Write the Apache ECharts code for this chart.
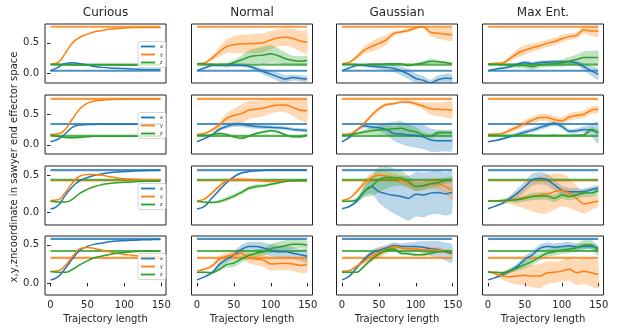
<!DOCTYPE html>
<html>
<head>
<meta charset="utf-8">
<script src="https://cdn.jsdelivr.net/npm/echarts@6/dist/echarts.min.js"></script>
<style>
html, body { margin: 0; padding: 0; background: #fff; }
#chart { width: 617px; height: 336px; }
</style>
</head>
<body>
<div id="chart"></div>
<script>
// trajectory steps the values were read at
const steps = [0, 10, 20, 30, 40, 50, 60, 70, 80, 90, 100, 110, 120, 130, 140, 149];
const titles = ['Curious', 'Normal', 'Gaussian', 'Max Ent.'];
const yTicks = [0, 0.5];
const xTicks = [0, 50, 100, 150];

// goal positions per row (horizontal lines)
const targetX = [0.045, 0.34, 0.57, 0.58];
const targetY = [0.76, 0.75, 0.43, 0.33];
const targetZ = [0.145, 0.147, 0.44, 0.42];

// row 1
const curious1X = [0.045, 0.10, 0.165, 0.175, 0.16, 0.14, 0.115, 0.10, 0.09, 0.085, 0.08, 0.075, 0.07, 0.065, 0.065, 0.065];
const curious1Y = [0.15, 0.18, 0.33, 0.50, 0.59, 0.64, 0.68, 0.70, 0.72, 0.73, 0.74, 0.745, 0.75, 0.75, 0.75, 0.75];
const curious1Z = [0.15, 0.15, 0.145, 0.14, 0.14, 0.14, 0.14, 0.14, 0.14, 0.14, 0.14, 0.14, 0.14, 0.14, 0.14, 0.14];

const normal1X = [0.044, 0.09, 0.13, 0.135, 0.13, 0.135, 0.13, 0.12, 0.08, 0.03, -0.01, -0.055, -0.09, -0.065, -0.08, -0.09];
const normal1XSd = [0, 0.005, 0.01, 0.03, 0.035, 0.03, 0.02, 0.03, 0.04, 0.05, 0.06, 0.07, 0.06, 0.05, 0.05, 0.05];
const normal1Y = [0.16, 0.17, 0.245, 0.35, 0.44, 0.47, 0.48, 0.485, 0.49, 0.50, 0.545, 0.58, 0.59, 0.57, 0.53, 0.51];
const normal1YSd = [0.005, 0.01, 0.04, 0.08, 0.11, 0.14, 0.15, 0.15, 0.16, 0.15, 0.15, 0.14, 0.14, 0.15, 0.17, 0.18];
const normal1Z = [0.16, 0.155, 0.15, 0.145, 0.145, 0.18, 0.22, 0.27, 0.29, 0.30, 0.32, 0.29, 0.24, 0.21, 0.20, 0.21];
const normal1ZSd = [0.005, 0.005, 0.01, 0.01, 0.02, 0.04, 0.07, 0.1, 0.12, 0.14, 0.14, 0.12, 0.1, 0.08, 0.08, 0.08];

const gaussian1X = [0.044, 0.09, 0.13, 0.13, 0.12, 0.11, 0.10, 0.08, 0.044, -0.01, -0.08, -0.11, -0.15, -0.10, -0.076, -0.08];
const gaussian1XSd = [0, 0.01, 0.01, 0.02, 0.03, 0.04, 0.05, 0.06, 0.07, 0.08, 0.08, 0.07, 0.05, 0.07, 0.07, 0.07];
const gaussian1Y = [0.16, 0.185, 0.27, 0.38, 0.44, 0.49, 0.545, 0.65, 0.675, 0.70, 0.74, 0.76, 0.67, 0.655, 0.64, 0.63];
const gaussian1YSd = [0, 0.01, 0.04, 0.06, 0.08, 0.09, 0.08, 0.04, 0.03, 0.03, 0.02, 0.02, 0.06, 0.09, 0.1, 0.1];
const gaussian1Z = [0.15, 0.15, 0.145, 0.14, 0.15, 0.15, 0.155, 0.16, 0.155, 0.13, 0.15, 0.17, 0.20, 0.19, 0.18, 0.16];
const gaussian1ZSd = [0.005, 0.01, 0.01, 0.01, 0.015, 0.015, 0.015, 0.015, 0.015, 0.015, 0.02, 0.03, 0.04, 0.03, 0.02, 0.02];

const maxent1X = [0.044, 0.07, 0.09, 0.11, 0.15, 0.18, 0.16, 0.18, 0.185, 0.19, 0.19, 0.19, 0.17, 0.11, 0.044, -0.01];
const maxent1XSd = [0, 0.01, 0.02, 0.02, 0.03, 0.03, 0.03, 0.03, 0.03, 0.03, 0.03, 0.03, 0.04, 0.06, 0.08, 0.09];
const maxent1Y = [0.16, 0.165, 0.17, 0.245, 0.33, 0.38, 0.42, 0.45, 0.49, 0.52, 0.566, 0.60, 0.62, 0.71, 0.69, 0.69];
const maxent1YSd = [0, 0.01, 0.02, 0.05, 0.07, 0.08, 0.07, 0.06, 0.06, 0.06, 0.06, 0.05, 0.05, 0.06, 0.08, 0.09];
const maxent1Z = [0.15, 0.15, 0.145, 0.14, 0.13, 0.13, 0.11, 0.14, 0.15, 0.16, 0.17, 0.20, 0.23, 0.26, 0.26, 0.26];
const maxent1ZSd = [0.005, 0.01, 0.02, 0.03, 0.04, 0.05, 0.05, 0.05, 0.05, 0.05, 0.06, 0.07, 0.08, 0.1, 0.11, 0.11];

// row 2
const curious2X = [0.05, 0.09, 0.18, 0.29, 0.325, 0.33, 0.333, 0.335, 0.335, 0.335, 0.335, 0.335, 0.335, 0.335, 0.335, 0.335];
const curious2Y = [0.17, 0.18, 0.25, 0.43, 0.59, 0.68, 0.715, 0.73, 0.74, 0.745, 0.745, 0.745, 0.745, 0.745, 0.745, 0.745];
const curious2Z = [0.16, 0.14, 0.12, 0.115, 0.12, 0.13, 0.14, 0.14, 0.14, 0.14, 0.14, 0.14, 0.14, 0.14, 0.14, 0.14];

const normal2X = [0.05, 0.10, 0.16, 0.25, 0.30, 0.33, 0.33, 0.315, 0.30, 0.29, 0.285, 0.28, 0.27, 0.25, 0.24, 0.235];
const normal2XSd = [0, 0.01, 0.02, 0.03, 0.04, 0.04, 0.04, 0.04, 0.04, 0.04, 0.03, 0.03, 0.03, 0.03, 0.03, 0.03];
const normal2Y = [0.17, 0.185, 0.24, 0.32, 0.43, 0.48, 0.51, 0.565, 0.58, 0.60, 0.63, 0.65, 0.65, 0.61, 0.565, 0.555];
const normal2YSd = [0.005, 0.01, 0.03, 0.05, 0.08, 0.11, 0.15, 0.15, 0.14, 0.13, 0.12, 0.11, 0.12, 0.14, 0.17, 0.19];
const normal2Z = [0.155, 0.155, 0.165, 0.185, 0.17, 0.13, 0.105, 0.14, 0.185, 0.21, 0.23, 0.21, 0.16, 0.13, 0.13, 0.16];
const normal2ZSd = [0.005, 0.01, 0.015, 0.02, 0.02, 0.02, 0.02, 0.02, 0.02, 0.02, 0.02, 0.02, 0.02, 0.02, 0.02, 0.02];

const gaussian2X = [0.05, 0.12, 0.24, 0.31, 0.29, 0.28, 0.25, 0.185, 0.175, 0.16, 0.15, 0.13, 0.077, 0.065, 0.065, 0.065];
const gaussian2XSd = [0, 0.01, 0.02, 0.03, 0.04, 0.06, 0.08, 0.12, 0.16, 0.19, 0.2, 0.2, 0.19, 0.18, 0.17, 0.17];
const gaussian2Y = [0.17, 0.175, 0.24, 0.35, 0.48, 0.59, 0.66, 0.67, 0.70, 0.70, 0.67, 0.635, 0.59, 0.58, 0.575, 0.565];
const gaussian2YSd = [0, 0.01, 0.02, 0.03, 0.03, 0.03, 0.03, 0.02, 0.02, 0.03, 0.04, 0.06, 0.1, 0.11, 0.13, 0.14];
const gaussian2Z = [0.155, 0.16, 0.185, 0.21, 0.23, 0.24, 0.25, 0.26, 0.27, 0.235, 0.21, 0.16, 0.14, 0.195, 0.20, 0.195];
const gaussian2ZSd = [0, 0.01, 0.02, 0.04, 0.06, 0.08, 0.1, 0.12, 0.12, 0.1, 0.08, 0.05, 0.04, 0.04, 0.03, 0.03];

const maxent2X = [0.05, 0.07, 0.10, 0.135, 0.17, 0.205, 0.24, 0.28, 0.32, 0.35, 0.30, 0.22, 0.23, 0.25, 0.24, 0.20];
const maxent2XSd = [0, 0.01, 0.02, 0.03, 0.04, 0.04, 0.04, 0.04, 0.04, 0.04, 0.04, 0.04, 0.04, 0.05, 0.1, 0.18];
const maxent2Y = [0.17, 0.175, 0.185, 0.24, 0.29, 0.35, 0.40, 0.445, 0.445, 0.41, 0.39, 0.455, 0.48, 0.50, 0.565, 0.58];
const maxent2YSd = [0, 0.01, 0.02, 0.04, 0.05, 0.06, 0.06, 0.06, 0.06, 0.06, 0.06, 0.06, 0.06, 0.06, 0.06, 0.06];
const maxent2Z = [0.155, 0.155, 0.15, 0.15, 0.15, 0.155, 0.155, 0.15, 0.15, 0.155, 0.15, 0.15, 0.155, 0.16, 0.25, 0.20];
const maxent2ZSd = [0.005, 0.01, 0.01, 0.015, 0.015, 0.015, 0.015, 0.015, 0.015, 0.015, 0.015, 0.015, 0.02, 0.03, 0.04, 0.04];

// row 3
const curious3X = [0.045, 0.09, 0.23, 0.35, 0.43, 0.47, 0.50, 0.52, 0.535, 0.545, 0.55, 0.555, 0.56, 0.563, 0.565, 0.567];
const curious3Y = [0.16, 0.17, 0.27, 0.40, 0.49, 0.51, 0.51, 0.50, 0.48, 0.465, 0.455, 0.45, 0.445, 0.44, 0.44, 0.44];
const curious3Z = [0.15, 0.14, 0.14, 0.18, 0.26, 0.31, 0.35, 0.375, 0.39, 0.40, 0.405, 0.41, 0.415, 0.42, 0.42, 0.42];

const normal3X = [0.045, 0.08, 0.19, 0.30, 0.40, 0.48, 0.53, 0.55, 0.56, 0.565, 0.57, 0.57, 0.57, 0.57, 0.57, 0.57];
const normal3XSd = [0, 0.005, 0.01, 0.015, 0.015, 0.015, 0.01, 0.01, 0.01, 0.005, 0.005, 0.005, 0.005, 0.005, 0.005, 0.005];
const normal3Y = [0.156, 0.18, 0.26, 0.35, 0.43, 0.445, 0.445, 0.44, 0.43, 0.42, 0.415, 0.42, 0.425, 0.425, 0.425, 0.425];
const normal3YSd = [0, 0.01, 0.02, 0.025, 0.02, 0.02, 0.02, 0.02, 0.015, 0.01, 0.01, 0.01, 0.01, 0.01, 0.01, 0.01];
const normal3Z = [0.147, 0.14, 0.134, 0.147, 0.18, 0.22, 0.27, 0.325, 0.35, 0.36, 0.38, 0.40, 0.415, 0.425, 0.43, 0.43];
const normal3ZSd = [0, 0.005, 0.01, 0.02, 0.03, 0.03, 0.03, 0.03, 0.03, 0.02, 0.02, 0.02, 0.01, 0.01, 0.01, 0.01];

const gaussian3X = [0.05, 0.08, 0.15, 0.28, 0.35, 0.28, 0.25, 0.23, 0.215, 0.19, 0.245, 0.235, 0.26, 0.27, 0.25, 0.27];
const gaussian3XSd = [0, 0.01, 0.03, 0.06, 0.1, 0.15, 0.2, 0.24, 0.28, 0.3, 0.3, 0.3, 0.29, 0.29, 0.29, 0.28];
const gaussian3Y = [0.16, 0.19, 0.28, 0.39, 0.47, 0.505, 0.49, 0.47, 0.44, 0.39, 0.35, 0.36, 0.38, 0.385, 0.35, 0.30];
const gaussian3YSd = [0, 0.01, 0.03, 0.05, 0.06, 0.06, 0.06, 0.06, 0.06, 0.06, 0.06, 0.06, 0.07, 0.08, 0.1, 0.13];
const gaussian3Z = [0.15, 0.15, 0.17, 0.28, 0.35, 0.44, 0.47, 0.47, 0.46, 0.415, 0.35, 0.36, 0.385, 0.40, 0.43, 0.44];
const gaussian3ZSd = [0, 0.01, 0.03, 0.08, 0.13, 0.17, 0.15, 0.12, 0.1, 0.08, 0.06, 0.05, 0.05, 0.05, 0.04, 0.04];

const maxent3X = [0.05, 0.085, 0.125, 0.19, 0.26, 0.35, 0.44, 0.46, 0.44, 0.37, 0.30, 0.28, 0.28, 0.28, 0.31, 0.325];
const maxent3XSd = [0, 0.01, 0.02, 0.04, 0.06, 0.07, 0.08, 0.08, 0.08, 0.07, 0.06, 0.05, 0.05, 0.04, 0.04, 0.04];
const maxent3Y = [0.16, 0.155, 0.15, 0.165, 0.18, 0.20, 0.215, 0.235, 0.25, 0.28, 0.30, 0.26, 0.19, 0.115, 0.135, 0.155];
const maxent3YSd = [0, 0.01, 0.02, 0.05, 0.1, 0.15, 0.2, 0.25, 0.26, 0.24, 0.22, 0.2, 0.17, 0.13, 0.1, 0.08];
const maxent3Z = [0.15, 0.155, 0.16, 0.165, 0.17, 0.19, 0.215, 0.22, 0.22, 0.19, 0.235, 0.215, 0.235, 0.26, 0.26, 0.295];
const maxent3ZSd = [0, 0.01, 0.02, 0.03, 0.04, 0.04, 0.05, 0.05, 0.05, 0.05, 0.05, 0.05, 0.05, 0.05, 0.05, 0.05];

// row 4
const curious4X = [0.04, 0.08, 0.19, 0.32, 0.43, 0.48, 0.51, 0.525, 0.54, 0.55, 0.555, 0.56, 0.565, 0.567, 0.57, 0.572];
const curious4Y = [0.15, 0.16, 0.23, 0.35, 0.45, 0.465, 0.45, 0.43, 0.41, 0.39, 0.375, 0.365, 0.355, 0.35, 0.35, 0.345];
const curious4Z = [0.15, 0.14, 0.14, 0.18, 0.24, 0.29, 0.33, 0.355, 0.375, 0.39, 0.40, 0.41, 0.415, 0.42, 0.42, 0.42];

const normal4X = [0.04, 0.08, 0.13, 0.24, 0.31, 0.37, 0.44, 0.48, 0.48, 0.46, 0.43, 0.41, 0.41, 0.39, 0.37, 0.35];
const normal4XSd = [0, 0.01, 0.02, 0.03, 0.04, 0.05, 0.06, 0.06, 0.06, 0.07, 0.08, 0.08, 0.08, 0.08, 0.08, 0.09];
const normal4Y = [0.155, 0.18, 0.22, 0.31, 0.35, 0.37, 0.39, 0.33, 0.315, 0.30, 0.25, 0.255, 0.26, 0.25, 0.23, 0.24];
const normal4YSd = [0, 0.01, 0.02, 0.04, 0.05, 0.06, 0.06, 0.07, 0.08, 0.09, 0.09, 0.09, 0.09, 0.09, 0.1, 0.1];
const normal4Z = [0.14, 0.14, 0.134, 0.18, 0.24, 0.26, 0.315, 0.36, 0.39, 0.41, 0.45, 0.47, 0.49, 0.51, 0.51, 0.50];
const normal4ZSd = [0, 0.01, 0.02, 0.03, 0.04, 0.05, 0.05, 0.05, 0.05, 0.05, 0.06, 0.07, 0.07, 0.06, 0.05, 0.05];

const gaussian4X = [0.04, 0.09, 0.20, 0.31, 0.39, 0.43, 0.46, 0.49, 0.48, 0.48, 0.48, 0.47, 0.45, 0.44, 0.41, 0.385];
const gaussian4XSd = [0, 0.01, 0.02, 0.03, 0.04, 0.04, 0.04, 0.04, 0.04, 0.05, 0.06, 0.08, 0.1, 0.11, 0.12, 0.12];
const gaussian4Y = [0.155, 0.16, 0.22, 0.285, 0.35, 0.40, 0.435, 0.48, 0.46, 0.445, 0.445, 0.435, 0.435, 0.43, 0.415, 0.39];
const gaussian4YSd = [0, 0.01, 0.02, 0.04, 0.07, 0.07, 0.05, 0.04, 0.04, 0.04, 0.04, 0.04, 0.04, 0.04, 0.03, 0.03];
const gaussian4Z = [0.14, 0.14, 0.14, 0.22, 0.31, 0.38, 0.43, 0.445, 0.39, 0.385, 0.37, 0.37, 0.39, 0.41, 0.415, 0.40];
const gaussian4ZSd = [0, 0.01, 0.01, 0.02, 0.03, 0.03, 0.03, 0.03, 0.02, 0.02, 0.02, 0.02, 0.02, 0.02, 0.02, 0.02];

const maxent4X = [0.04, 0.07, 0.11, 0.16, 0.22, 0.31, 0.37, 0.455, 0.48, 0.47, 0.48, 0.49, 0.47, 0.48, 0.48, 0.455];
const maxent4XSd = [0, 0.01, 0.02, 0.03, 0.04, 0.05, 0.05, 0.05, 0.05, 0.05, 0.05, 0.05, 0.05, 0.04, 0.04, 0.04];
const maxent4Y = [0.155, 0.12, 0.09, 0.08, 0.09, 0.10, 0.09, 0.09, 0.134, 0.14, 0.155, 0.18, 0.134, 0.155, 0.134, 0.11];
const maxent4YSd = [0, 0.02, 0.05, 0.08, 0.11, 0.13, 0.15, 0.16, 0.15, 0.14, 0.14, 0.15, 0.16, 0.17, 0.18, 0.18];
const maxent4Z = [0.14, 0.14, 0.134, 0.16, 0.20, 0.24, 0.285, 0.34, 0.39, 0.41, 0.43, 0.445, 0.46, 0.50, 0.50, 0.415];
const maxent4ZSd = [0, 0.01, 0.02, 0.03, 0.04, 0.05, 0.05, 0.05, 0.05, 0.05, 0.05, 0.05, 0.05, 0.06, 0.06, 0.06];

// panels by row, then column (Curious, Normal, Gaussian, Max Ent.)
const panels = [
  [
    { x: curious1X, y: curious1Y, z: curious1Z },
    { x: normal1X, y: normal1Y, z: normal1Z, xSd: normal1XSd, ySd: normal1YSd, zSd: normal1ZSd },
    { x: gaussian1X, y: gaussian1Y, z: gaussian1Z, xSd: gaussian1XSd, ySd: gaussian1YSd, zSd: gaussian1ZSd },
    { x: maxent1X, y: maxent1Y, z: maxent1Z, xSd: maxent1XSd, ySd: maxent1YSd, zSd: maxent1ZSd }
  ],
  [
    { x: curious2X, y: curious2Y, z: curious2Z },
    { x: normal2X, y: normal2Y, z: normal2Z, xSd: normal2XSd, ySd: normal2YSd, zSd: normal2ZSd },
    { x: gaussian2X, y: gaussian2Y, z: gaussian2Z, xSd: gaussian2XSd, ySd: gaussian2YSd, zSd: gaussian2ZSd },
    { x: maxent2X, y: maxent2Y, z: maxent2Z, xSd: maxent2XSd, ySd: maxent2YSd, zSd: maxent2ZSd }
  ],
  [
    { x: curious3X, y: curious3Y, z: curious3Z },
    { x: normal3X, y: normal3Y, z: normal3Z, xSd: normal3XSd, ySd: normal3YSd, zSd: normal3ZSd },
    { x: gaussian3X, y: gaussian3Y, z: gaussian3Z, xSd: gaussian3XSd, ySd: gaussian3YSd, zSd: gaussian3ZSd },
    { x: maxent3X, y: maxent3Y, z: maxent3Z, xSd: maxent3XSd, ySd: maxent3YSd, zSd: maxent3ZSd }
  ],
  [
    { x: curious4X, y: curious4Y, z: curious4Z },
    { x: normal4X, y: normal4Y, z: normal4Z, xSd: normal4XSd, ySd: normal4YSd, zSd: normal4ZSd },
    { x: gaussian4X, y: gaussian4Y, z: gaussian4Z, xSd: gaussian4XSd, ySd: gaussian4YSd, zSd: gaussian4ZSd },
    { x: maxent4X, y: maxent4Y, z: maxent4Z, xSd: maxent4XSd, ySd: maxent4YSd, zSd: maxent4ZSd }
  ]
];
const targets = { x: targetX, y: targetY, z: targetZ };

// layout
const colLeft = [45, 191.5, 336.5, 482.5];
const rowTop = [24, 95, 166, 236];
const plotW = 121;
const plotH = 59;
const yRange = [[-0.154, 0.805], [-0.151, 0.814], [-0.169, 0.625], [-0.159, 0.617]];
const colors = { x: '#1f77b4', y: '#ff7f0e', z: '#2ca02c' };
const font = 'DejaVu Sans';
const textColor = '#262626';

const chart = echarts.init(document.getElementById('chart'));

function pairs(vals) {
  return steps.map((t, i) => [t, vals[i]]);
}

// mean +/- sd band drawn as one polygon through the axis scales
function bandSeries(gi, mean, sd, color) {
  const lower = mean.map((m, i) => m - sd[i]);
  const upper = mean.map((m, i) => m + sd[i]);
  return {
    type: 'custom', xAxisIndex: gi, yAxisIndex: gi, silent: true, z: 1,
    clip: true,
    data: steps.map((t, i) => [t, lower[i], upper[i]]),
    encode: { x: 0, y: [1, 2] },
    renderItem: (params, api) => {
      if (params.dataIndex !== 0) return;
      const top = steps.map((t, i) => api.coord([t, upper[i]]));
      const bottom = steps.map((t, i) => api.coord([t, lower[i]])).reverse();
      return {
        type: 'polygon',
        shape: { points: top.concat(bottom), smooth: 0.25 },
        style: { fill: color, opacity: 0.3 }
      };
    }
  };
}

const option = {
  animation: false,
  textStyle: { fontFamily: font },
  grid: [],
  xAxis: [],
  yAxis: [],
  legend: [],
  series: [],
  graphic: []
};

panels.forEach((row, r) => {
  row.forEach((p, c) => {
    const gi = r * 4 + c;
    const lastRow = r === panels.length - 1;
    const firstCol = c === 0;

    option.grid.push({
      left: colLeft[c], top: rowTop[r], width: plotW, height: plotH,
      show: true, borderColor: '#222', borderWidth: 1, backgroundColor: 'transparent'
    });

    option.xAxis.push({
      type: 'value', gridIndex: gi, min: -7.45, max: 156.45,
      splitLine: { show: false },
      axisLine: { show: false },
      axisTick: { show: lastRow, customValues: xTicks, length: 3.5, lineStyle: { color: '#222' } },
      axisLabel: { show: lastRow, customValues: xTicks, fontSize: 10, color: textColor, margin: 5, fontFamily: font },
      name: lastRow ? 'Trajectory length' : '',
      nameLocation: 'middle', nameGap: 19,
      nameTextStyle: { fontSize: 10, color: textColor, fontFamily: font }
    });

    option.yAxis.push({
      type: 'value', gridIndex: gi, min: yRange[r][0], max: yRange[r][1],
      splitLine: { show: false },
      axisLine: { show: false },
      axisTick: { show: firstCol, customValues: yTicks, length: 3.5, lineStyle: { color: '#222' } },
      axisLabel: {
        show: firstCol, customValues: yTicks, fontSize: 10, color: textColor, margin: 6, fontFamily: font,
        formatter: v => v.toFixed(1)
      }
    });

    ['x', 'y', 'z'].forEach(key => {
      const mean = p[key];
      const sd = p[key + 'Sd'];

      if (sd) {
        option.series.push(bandSeries(gi, mean, sd, colors[key]));
      }

      // goal line
      option.series.push({
        type: 'line', name: key + ' goal', xAxisIndex: gi, yAxisIndex: gi,
        symbol: 'none', silent: true, z: 2,
        lineStyle: { color: colors[key], width: 2.2, opacity: 0.8 },
        data: [[steps[0], targets[key][r]], [steps[steps.length - 1], targets[key][r]]]
      });

      // mean trajectory
      option.series.push({
        type: 'line', name: key, xAxisIndex: gi, yAxisIndex: gi,
        symbol: 'none', showSymbol: false, smooth: c === 0 ? 0.5 : 0.3, z: 3,
        itemStyle: { color: colors[key] },
        lineStyle: { color: colors[key], width: 1.5 },
        data: pairs(mean)
      });
    });
  });

  // small legend inside the Curious panel of every row
  option.legend.push({
    data: ['x', 'y', 'z'],
    orient: 'vertical',
    left: colLeft[0] + plotW - 28,
    top: rowTop[r] + 17.5,
    icon: 'rect',
    itemWidth: 14, itemHeight: 1.8, itemGap: 2,
    padding: [2, 3, 2, 3],
    selectedMode: false,
    borderColor: '#ccc', borderWidth: 0.8, borderRadius: 2,
    backgroundColor: 'rgba(255,255,255,0.8)',
    textStyle: { fontSize: 5, lineHeight: 6, color: textColor, fontFamily: font }
  });
});

titles.forEach((t, c) => {
  option.graphic.push({
    type: 'text', x: colLeft[c] + plotW / 2, y: 13,
    style: { text: t, fontSize: 12, fontFamily: font, fill: textColor, align: 'center', verticalAlign: 'middle' }
  });
});

option.graphic.push({
  type: 'text', x: 14, y: 167, rotation: Math.PI / 2,
  style: {
    text: 'x,y,zncoordinate in sawyer end effector space',
    fontSize: 10, fontFamily: font, fill: textColor, align: 'center', verticalAlign: 'middle'
  }
});

chart.setOption(option);
</script>
</body>
</html>
